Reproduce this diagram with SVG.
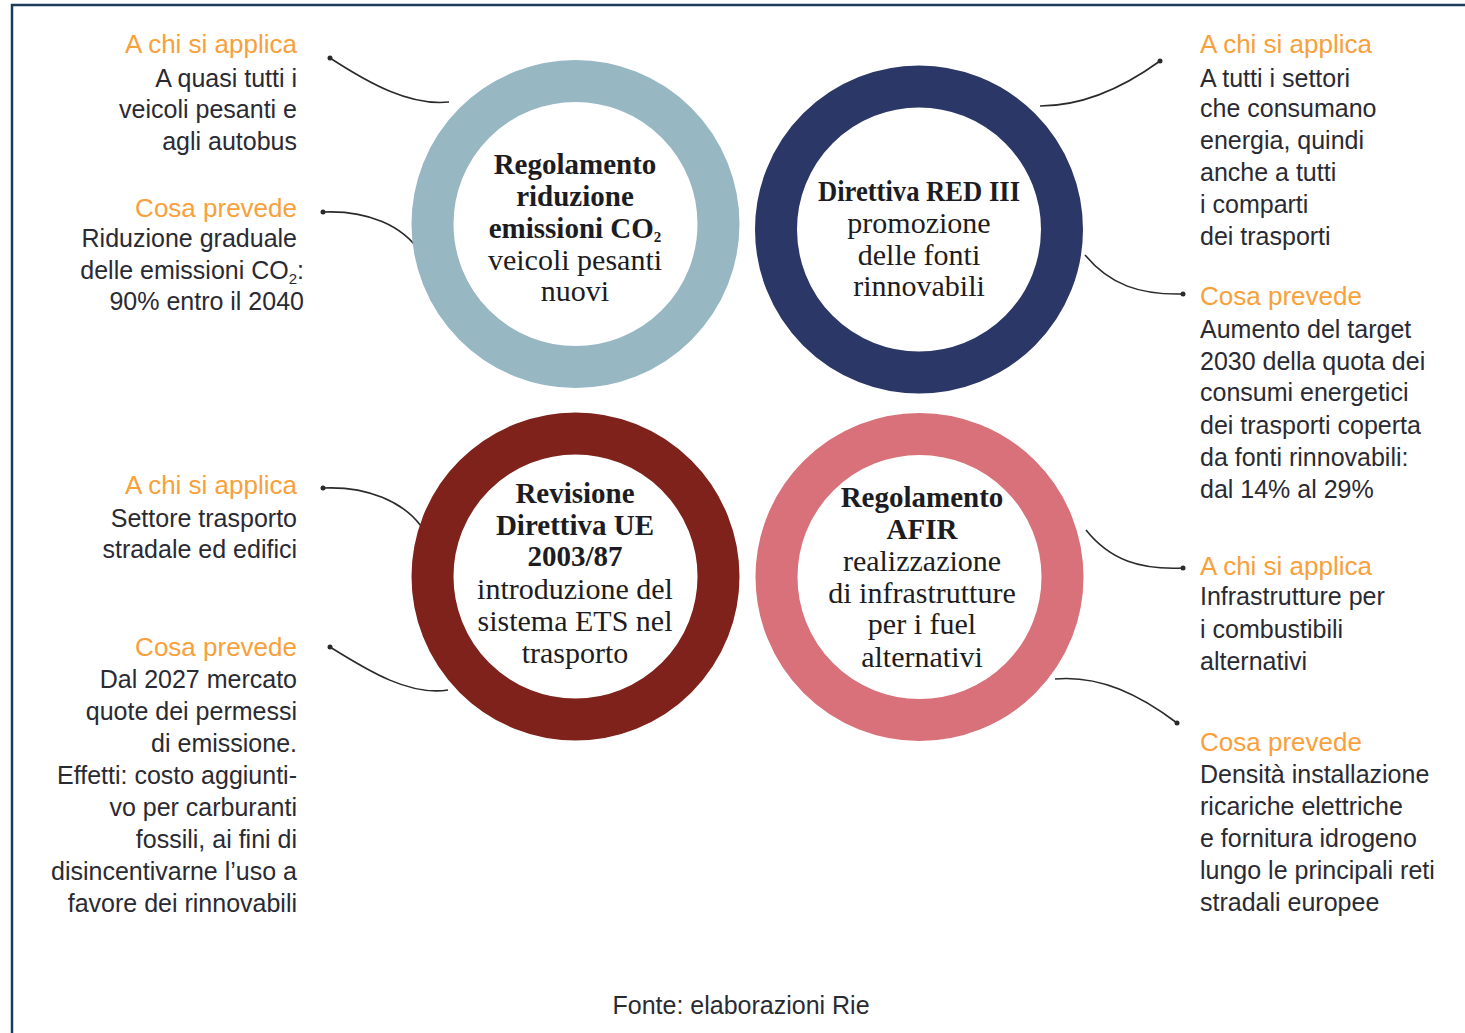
<svg xmlns="http://www.w3.org/2000/svg" width="1465" height="1033" viewBox="0 0 1465 1033">
<defs>
<style>
.lbl{font-family:"Liberation Sans",Arial,sans-serif;font-size:25px;fill:#2a2a33}
.ttl{font-family:"Liberation Sans",Arial,sans-serif;font-size:26px;fill:#f8a03a}
.r{text-anchor:end}
.ct{font-family:"Liberation Serif","Times New Roman",serif;font-size:30px;fill:#1c1c22;text-anchor:middle}
.cb{font-weight:bold;font-size:29px}
.ring{fill:#fff;stroke-width:42}
.con{fill:none;stroke:#2a2a2a;stroke-width:1.6}
.dot{fill:#2a2a2a}
</style>
</defs>
<rect width="1465" height="1033" fill="#fff"/>
<g id="frame" fill="none" stroke="#1d3c5c" stroke-width="2.5">
<path d="M12,1033 V5 H1465"/>
</g>

<g id="connectors">
<path class="con" d="M330,58 C370,84 410,106 449,102"/><circle class="dot" cx="330" cy="58" r="2.5"/>
<path class="con" d="M323,212 C368,210 403,226 420,252"/><circle class="dot" cx="323" cy="212" r="2.5"/>
<path class="con" d="M1040,106 C1080,106 1120,90 1160,61"/><circle class="dot" cx="1160" cy="61" r="2.5"/>
<path class="con" d="M1085,255 C1110,285 1140,295 1183,294"/><circle class="dot" cx="1183" cy="294" r="2.5"/>
<path class="con" d="M323,488 C368,486 403,502 421,526"/><circle class="dot" cx="323" cy="488" r="2.5"/>
<path class="con" d="M330,647 C370,672 410,696 448,690"/><circle class="dot" cx="330" cy="647" r="2.5"/>
<path class="con" d="M1086,530 C1110,560 1140,570 1183,568"/><circle class="dot" cx="1183" cy="568" r="2.5"/>
<path class="con" d="M1055,679 C1100,675 1140,695 1177,723"/><circle class="dot" cx="1177" cy="723" r="2.5"/>
</g>

<g id="node-co2">
<circle class="ring" cx="575.5" cy="224" r="143" stroke="#97b7c2"/>
<text class="ct cb" x="575" y="174">Regolamento</text>
<text class="ct cb" x="575" y="206">riduzione</text>
<text class="ct cb" x="575" y="238">emissioni CO<tspan font-size="15" dy="4">2</tspan></text>
<text class="ct" x="575" y="270">veicoli pesanti</text>
<text class="ct" x="575" y="301">nuovi</text>
</g>

<g id="node-red">
<circle class="ring" cx="919" cy="229.5" r="143" stroke="#2b3766"/>
<text class="ct cb" x="919" y="201" textLength="202" lengthAdjust="spacingAndGlyphs">Direttiva RED III</text>
<text class="ct" x="919" y="233">promozione</text>
<text class="ct" x="919" y="265">delle fonti</text>
<text class="ct" x="919" y="296">rinnovabili</text>
</g>

<g id="node-ets">
<circle class="ring" cx="575.5" cy="576.5" r="143" stroke="#7f221b"/>
<text class="ct cb" x="575" y="503">Revisione</text>
<text class="ct cb" x="575" y="535">Direttiva UE</text>
<text class="ct cb" x="575" y="566">2003/87</text>
<text class="ct" x="575" y="599">introduzione del</text>
<text class="ct" x="575" y="631">sistema ETS nel</text>
<text class="ct" x="575" y="663">trasporto</text>
</g>

<g id="node-afir">
<circle class="ring" cx="919.5" cy="577" r="143" stroke="#d9717a"/>
<text class="ct cb" x="922" y="507">Regolamento</text>
<text class="ct cb" x="922" y="539">AFIR</text>
<text class="ct" x="922" y="571">realizzazione</text>
<text class="ct" x="922" y="603">di infrastrutture</text>
<text class="ct" x="922" y="634">per i fuel</text>
<text class="ct" x="922" y="667">alternativi</text>
</g>

<g id="text-co2-chi">
<text class="ttl r" x="297" y="53">A chi si applica</text>
<text class="lbl r" x="297" y="87">A quasi tutti i</text>
<text class="lbl r" x="297" y="118">veicoli pesanti e</text>
<text class="lbl r" x="297" y="150">agli autobus</text>
</g>
<g id="text-co2-cosa">
<text class="ttl r" x="297" y="217">Cosa prevede</text>
<text class="lbl r" x="297" y="247">Riduzione graduale</text>
<text class="lbl r" x="304" y="279">delle emissioni CO<tspan font-size="15" dy="5">2</tspan><tspan dy="-5">:</tspan></text>
<text class="lbl r" x="304" y="310">90% entro il 2040</text>
</g>

<g id="text-red-chi">
<text class="ttl" x="1200" y="53">A chi si applica</text>
<text class="lbl" x="1200" y="87">A tutti i settori</text>
<text class="lbl" x="1200" y="117">che consumano</text>
<text class="lbl" x="1200" y="149">energia, quindi</text>
<text class="lbl" x="1200" y="181">anche a tutti</text>
<text class="lbl" x="1200" y="213">i comparti</text>
<text class="lbl" x="1200" y="245">dei trasporti</text>
</g>
<g id="text-red-cosa">
<text class="ttl" x="1200" y="305">Cosa prevede</text>
<text class="lbl" x="1200" y="338">Aumento del target</text>
<text class="lbl" x="1200" y="370">2030 della quota dei</text>
<text class="lbl" x="1200" y="401">consumi energetici</text>
<text class="lbl" x="1200" y="434">dei trasporti coperta</text>
<text class="lbl" x="1200" y="466">da fonti rinnovabili:</text>
<text class="lbl" x="1200" y="498">dal 14% al 29%</text>
</g>

<g id="text-ets-chi">
<text class="ttl r" x="297" y="494">A chi si applica</text>
<text class="lbl r" x="297" y="527">Settore trasporto</text>
<text class="lbl r" x="297" y="558">stradale ed edifici</text>
</g>
<g id="text-ets-cosa">
<text class="ttl r" x="297" y="656">Cosa prevede</text>
<text class="lbl r" x="297" y="688">Dal 2027 mercato</text>
<text class="lbl r" x="297" y="720">quote dei permessi</text>
<text class="lbl r" x="297" y="752">di emissione.</text>
<text class="lbl r" x="297" y="784">Effetti: costo aggiunti-</text>
<text class="lbl r" x="297" y="816">vo per carburanti</text>
<text class="lbl r" x="297" y="848">fossili, ai fini di</text>
<text class="lbl r" x="297" y="880">disincentivarne l’uso a</text>
<text class="lbl r" x="297" y="912">favore dei rinnovabili</text>
</g>

<g id="text-afir-chi">
<text class="ttl" x="1200" y="575">A chi si applica</text>
<text class="lbl" x="1200" y="605">Infrastrutture per</text>
<text class="lbl" x="1200" y="638">i combustibili</text>
<text class="lbl" x="1200" y="670">alternativi</text>
</g>
<g id="text-afir-cosa">
<text class="ttl" x="1200" y="751">Cosa prevede</text>
<text class="lbl" x="1200" y="783">Densità installazione</text>
<text class="lbl" x="1200" y="815">ricariche elettriche</text>
<text class="lbl" x="1200" y="847">e fornitura idrogeno</text>
<text class="lbl" x="1200" y="879">lungo le principali reti</text>
<text class="lbl" x="1200" y="911">stradali europee</text>
</g>

<g id="source">
<text class="lbl" x="741" y="1014" text-anchor="middle">Fonte: elaborazioni Rie</text>
</g>
</svg>
